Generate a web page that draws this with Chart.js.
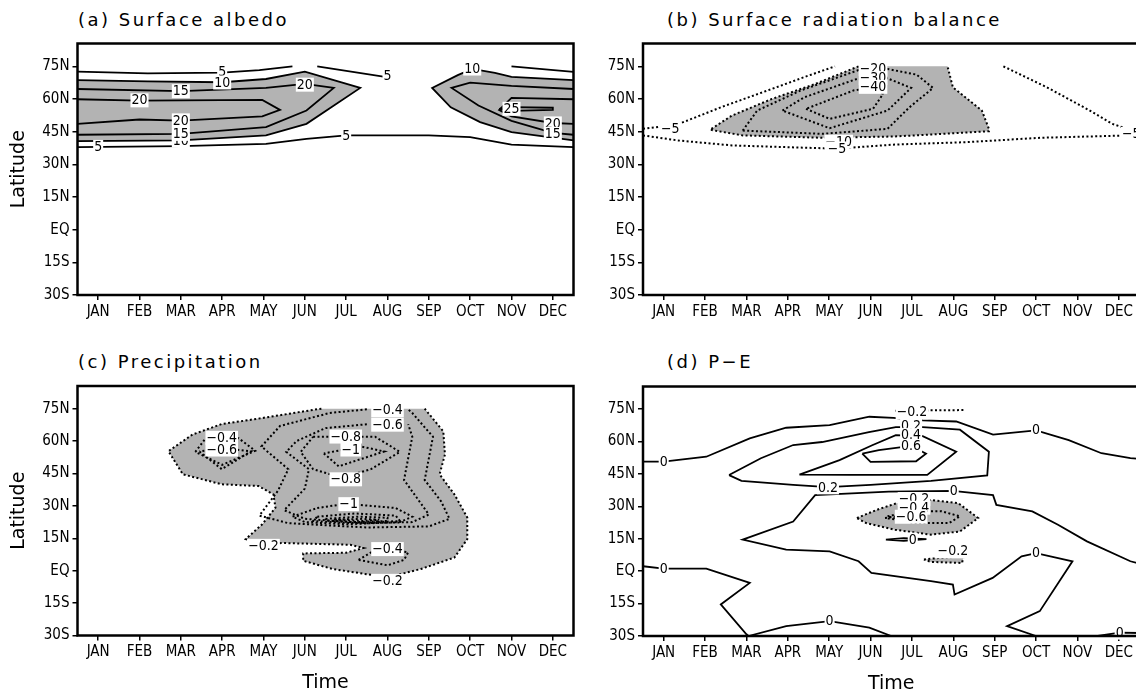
<!DOCTYPE html>
<html>
<head>
<meta charset="utf-8">
<script src="https://cdn.jsdelivr.net/npm/chart.js@4.4.1/dist/chart.umd.min.js"></script>
<style>
  html, body { margin: 0; padding: 0; background: #fff; width: 1136px; height: 697px; overflow: hidden; }
  canvas.panel { position: absolute; left: 0; top: 0; }
  .ttl { position: absolute; font-family: 'DejaVu Sans', sans-serif; font-size: 18px; letter-spacing: 2.5px; color: #000; white-space: nowrap; }
</style>
</head>
<body>
<div class="ttl" style="left:78px; top:9px">(a) Surface albedo</div>
<div class="ttl" style="left:667px; top:9px">(b) Surface radiation balance</div>
<div class="ttl" style="left:78px; top:351px">(c) Precipitation</div>
<div class="ttl" style="left:667px; top:351px">(d) P&minus;E</div>
<canvas id="pa" class="panel" width="1150" height="697"></canvas>
<canvas id="pb" class="panel" width="1150" height="697"></canvas>
<canvas id="pc" class="panel" width="1150" height="697"></canvas>
<canvas id="pd" class="panel" width="1150" height="697"></canvas>
<script>
// axes
const months = ['JAN', 'FEB', 'MAR', 'APR', 'MAY', 'JUN', 'JUL', 'AUG', 'SEP', 'OCT', 'NOV', 'DEC'];
const latTicks = [75, 60, 45, 30, 15, 0, -15, -30];
const latLabels = ['75N', '60N', '45N', '30N', '15N', 'EQ', '15S', '30S'];

// (a) surface albedo, contour vertices as [month, latitude]
const albedo5TopW = [[0.5, 72.6], [2.2, 71.8], [4.0, 72.1], [4.9, 73.3], [5.7, 75.0]];
const albedo5TopM = [[6.3, 75.0], [7.9, 70.3]];
const albedo5TopE = [[11.0, 75.0], [12.5, 72.5]];
const albedo10W = [[0.5, 68.7], [2.2, 68.1], [4.0, 67.7], [5.06, 69.2], [6.0, 72.6], [7.34, 65.1], [6.04, 48.6], [5.06, 43.3], [3.0, 41.0], [0.5, 40.7]];
const albedo15W = [[0.5, 64.6], [3.0, 63.6], [5.06, 65.1], [6.0, 67.0], [6.7, 65.1], [6.04, 54.7], [5.06, 47.1], [3.0, 44.0], [0.5, 43.6]];
const albedo20W = [[0.5, 59.9], [2.0, 59.3], [4.97, 59.6], [5.4, 55.0], [4.97, 52.0], [3.0, 50.1], [2.0, 50.6], [0.5, 48.6]];
const albedo5South = [[0.5, 37.9], [3.0, 38.4], [5.06, 39.4], [6.04, 41.7], [7.0, 43.3], [9.0, 43.3], [10.0, 42.5], [11.0, 39.1], [12.5, 37.9]];
const albedo10E = [[12.5, 68.7], [11.0, 70.2], [10.6, 72.0], [10.05, 73.8], [9.7, 71.0], [9.08, 65.1], [9.53, 56.2], [10.24, 49.4], [11.0, 44.8], [12.5, 41.0]];
const albedo15E = [[12.5, 64.6], [11.0, 66.0], [10.0, 67.5], [9.55, 65.1], [10.2, 57.0], [11.0, 50.0], [12.0, 44.5], [12.5, 43.6]];
const albedo20E = [[12.5, 59.9], [11.0, 60.5], [10.7, 55.0], [11.0, 52.0], [12.0, 49.0], [12.5, 48.6]];
const albedo25E = [[10.7, 55.5], [11.0, 56.3], [12.0, 56.0], [12.0, 55.0], [11.0, 54.6], [10.7, 55.5]];
const albedoLabels = [
  ['5', 4.0, 72.3], ['10', 4.0, 67.6], ['15', 3.0, 63.6], ['20', 2.0, 59.4], ['20', 3.0, 50.2],
  ['10', 3.0, 41.0], ['15', 3.0, 44.0], ['5', 1.0, 38.0], ['20', 6.0, 66.6], ['5', 8.0, 70.5],
  ['5', 7.0, 43.3], ['10', 10.05, 74.0], ['25', 11.0, 55.5], ['20', 12.0, 48.8], ['15', 12.0, 44.0]
];

// (b) surface radiation balance
const rad5NW = [[0.5, 46.3], [1.33, 48.3], [2.38, 56.2], [3.61, 64.6], [4.49, 70.7], [5.14, 75]];
const rad5NE = [[9.21, 75], [10.26, 65.4], [11.3, 54.7], [11.84, 48.6], [12.5, 44.5]];
const rad5S = [[0.5, 43.3], [1.33, 41.0], [2.65, 38.7], [3.96, 37.9], [5.19, 37.2], [6.59, 39.1], [8.34, 40.2], [10.1, 42.2], [12.28, 43.3], [12.5, 43.5]];
const rad10 = [[5.71, 75], [4.66, 66.9], [3.61, 60.0], [2.65, 52.4], [2.12, 45.9], [2.91, 43.3], [4.84, 42.2], [6.59, 42.8], [8.86, 45.2], [8.86, 46.3], [8.69, 54.7], [7.99, 65.4], [7.86, 75]];
const rad20 = [[2.91, 45.5], [3.26, 54.7], [4.31, 63.9], [5.71, 73.3], [6.41, 73.8], [7.11, 71.2], [7.51, 65.1], [6.94, 56.2], [6.41, 46.3], [4.84, 44.0], [2.91, 45.5]];
const rad30 = [[3.87, 54.7], [4.40, 60.8], [5.71, 69.5], [6.41, 69.5], [6.98, 65.1], [6.41, 54.7], [5.01, 46.6], [3.87, 54.7]];
const rad40 = [[4.44, 55.5], [5.01, 50.9], [6.06, 55.5], [6.3, 62.3], [6.06, 65.3], [5.6, 64.0], [4.44, 55.5]];
const radLabels = [
  ['−5', 1.16, 46.3], ['−10', 5.23, 40.4], ['−5', 5.19, 37.3], ['−20', 6.06, 73.8],
  ['−30', 6.06, 69.6], ['−40', 6.06, 65.6], ['−5', 12.3, 44.0]
];

// (c) precipitation
const precip02 = [[6.4, 75], [6.22, 74.5], [4.88, 70.4], [3.99, 67.9], [3.28, 63.0], [2.70, 55.3], [3.05, 44.6], [3.99, 40.0], [4.88, 39.2], [5.24, 35.3], [5.29, 29.2], [4.97, 21.5], [4.57, 14.6], [4.9, 12.5], [5.5, 12.8], [7.1, 12.0], [7.42, 10.5], [7.0, 8.3], [5.96, 8.0], [5.96, 4.6], [6.67, 0.8], [8.0, -3.1], [8.81, 0.8], [9.62, 6.1], [9.93, 14.6], [9.93, 24.6], [9.62, 35.3], [9.26, 44.6], [9.39, 53.8], [9.35, 64.5], [8.90, 75]];
const precip04W = [[3.35, 55.0], [3.6, 61.3], [4.4, 61.3], [4.8, 55.5], [4.0, 49.0], [3.35, 55.0]];
const precip06W = [[3.45, 55.2], [3.99, 47.0], [4.7, 55.3], [3.99, 56.8], [3.45, 55.2]];
const precip04 = [[7.5, 74.7], [6.6, 73.0], [5.4, 67.0], [4.95, 57.5], [5.6, 47.0], [5.35, 37.0], [4.9, 25.5], [5.6, 22.0], [7.5, 20.0], [9.0, 20.5], [9.5, 24.0], [9.3, 32.0], [8.9, 42.0], [9.0, 52.0], [9.1, 62.0], [8.6, 73.0], [8.5, 74.7]];
const precip06 = [[7.5, 67.8], [6.5, 66.0], [5.8, 60.0], [5.55, 55.0], [6.1, 47.0], [6.0, 38.0], [5.5, 28.0], [6.0, 24.0], [7.5, 22.0], [8.6, 22.5], [9.0, 26.0], [8.7, 34.0], [8.4, 42.0], [8.5, 52.0], [8.6, 62.0], [8.5, 67.8]];
const precip08N = [[6.2, 62.0], [7.7, 62.0], [8.3, 55.0], [7.6, 47.0], [6.9, 43.0], [6.2, 47.0], [5.9, 55.0], [6.2, 62.0]];
const precip10N = [[6.46, 54.3], [6.82, 48.3], [7.92, 55.2], [7.36, 57.5], [6.46, 54.3]];
const precip10S = [[6.3, 29.0], [7.0, 31.0], [8.2, 29.0], [8.6, 25.0], [8.3, 22.5], [7.0, 21.5], [6.0, 22.5], [5.7, 25.0], [6.3, 29.0]];
const precip12S = [[6.3, 25.0], [7.2, 26.5], [8.2, 25.5], [8.3, 23.0], [7.2, 22.0], [6.2, 23.0], [6.3, 25.0]];
const precip14S = [[6.5, 24.0], [7.3, 25.0], [8.0, 24.5], [8.0, 23.0], [7.2, 22.5], [6.5, 23.2], [6.5, 24.0]];
const precip16S = [[6.7, 23.6], [7.4, 24.0], [7.8, 23.6], [7.4, 23.0], [6.7, 23.6]];
const precip04Eq = [[7.3, 5.0], [7.6, 8.5], [8.0, 10.0], [8.5, 8.5], [8.4, 5.0], [8.0, 2.5], [7.3, 5.0]];
const precipLabels = [
  ['−0.4', 3.99, 61.5], ['−0.6', 3.99, 56.1], ['−0.4', 8.0, 74.3], ['−0.6', 8.0, 67.6],
  ['−0.8', 6.99, 62.1], ['−1', 7.11, 56.1], ['−0.8', 6.99, 42.3], ['−1', 7.06, 30.8],
  ['−0.2', 5.0, 11.5], ['−0.4', 8.0, 10.0], ['−0.2', 8.0, -4.7]
];

// (d) P-E
const pe0North = [[0.5, 50.7], [1.0, 50.7], [2.03, 53.0], [3.08, 61.5], [3.96, 66.4], [5.01, 67.6], [5.97, 71.5], [6.55, 71.0], [7.26, 69.8], [8.07, 69.3], [8.96, 63.2], [10.0, 65.2], [10.79, 60.7], [11.58, 54.6], [12.28, 52.3], [12.5, 52.0]];
const pe02 = [[2.58, 44.5], [3.35, 52.3], [4.13, 58.4], [4.83, 59.8], [5.96, 64.4], [6.61, 66.7], [7.26, 66.7], [8.16, 65.5], [8.86, 55.3], [8.82, 44.3], [7.46, 41.8], [6.0, 40.0], [4.97, 38.9], [4.13, 40.0], [2.88, 41.8], [2.58, 44.5]];
const pe04 = [[4.28, 44.7], [5.25, 51.4], [6.04, 58.3], [6.61, 63.0], [7.26, 62.5], [8.07, 55.3], [7.37, 44.6], [5.5, 44.6], [4.28, 44.7]];
const pe06 = [[5.8, 54.4], [6.2, 56.0], [6.98, 58.0], [7.34, 54.4], [7.1, 50.9], [6.0, 50.6], [5.8, 54.4]];
const pe0Mid = [[12.5, 3.5], [12.28, 4.6], [11.23, 13.8], [10.53, 21.5], [9.91, 27.7], [9.04, 30.7], [8.96, 35.2], [7.99, 37.2], [6.44, 36.8], [4.66, 35.2], [4.13, 23.0], [2.91, 14.6], [3.96, 10.0], [5.01, 9.2], [5.71, 4.6], [6.02, -0.8], [7.46, -4.6], [7.99, -6.2], [8.03, -10.8], [8.95, -3.1], [9.65, 6.9], [10.0, 8.4], [10.88, 4.6], [10.09, -18.5], [9.30, -25.4], [10.0, -30]];
const pe0West = [[0.5, 2.3], [1.0, 1.2], [2.03, 1.2], [3.08, -5.4], [2.38, -15.4], [3.0, -29.2], [3.05, -30]];
const pe0South = [[3.05, -30], [3.96, -25.4], [5.01, -23.1], [5.97, -26.1], [6.5, -30]];
const pe0SouthEast = [[11.49, -30], [12.02, -28.4], [12.5, -28.6]];
const pe0Small = [[6.37, 14.6], [6.8, 15.3], [7.35, 14.8], [6.8, 14.0], [6.37, 14.6]];
const peNeg02Top = [[6.6, 74.3], [8.3, 74.6]];
const peNeg02 = [[5.67, 24.6], [6.15, 28.4], [6.76, 32.3], [7.46, 33.0], [8.12, 31.5], [8.60, 24.6], [8.16, 18.4], [7.46, 16.9], [6.59, 19.2], [5.89, 22.3], [5.67, 24.6]];
const peNeg04 = [[6.41, 25.4], [6.94, 27.7], [7.72, 27.7], [8.16, 25.4], [7.90, 22.3], [7.02, 22.3], [6.41, 25.4]];
const peNeg06 = [[6.35, 24.6], [6.7, 25.6], [7.2, 25.0], [6.7, 23.8], [6.35, 24.6]];
const peNeg02Eq = [[7.29, 5.4], [7.64, 6.1], [8.25, 6.9], [8.21, 3.8], [7.46, 4.3], [7.29, 5.4]];
const peLabels = [
  ['0', 1.0, 50.7], ['0', 10.0, 65.2], ['−0.2', 7.0, 73.6], ['0.2', 6.98, 67.4], ['0.4', 6.98, 63.0],
  ['0.6', 6.98, 58.0], ['0.2', 4.97, 38.8], ['0', 8.01, 37.3], ['−0.2', 7.05, 33.4], ['−0.4', 7.05, 29.4],
  ['−0.6', 6.98, 25.2], ['0', 7.02, 14.6], ['−0.2', 7.99, 9.2], ['0', 1.0, 1.2], ['0', 10.0, 8.4],
  ['0', 5.01, -23.1], ['0', 12.02, -28.4]
];

const condensed = '"DejaVu Sans Condensed", "Liberation Sans Narrow", "DejaVu Sans", sans-serif';
const tickFont = { family: condensed, size: 15 };
const titleFont = { family: '"DejaVu Sans", sans-serif', size: 19 };
const SHADE = '#b3b3b3';

const pts = a => a.map(([x, y]) => ({ x, y }));

function line(arr, dashed) {
  return {
    data: pts(arr), borderColor: '#000', borderWidth: dashed ? 2 : 1.8,
    borderDash: dashed ? [2, 2.4] : [], pointRadius: 0, fill: false, tension: 0
  };
}

function shade(arr) {
  return {
    data: pts(arr), borderColor: 'rgba(0,0,0,0)', borderWidth: 0,
    backgroundColor: SHADE, pointRadius: 0, fill: 'shape', tension: 0
  };
}

// white-boxed contour values
const contourLabels = {
  id: 'contourLabels',
  afterDatasetsDraw(chart, args, opts) {
    const { ctx, scales: { x, y } } = chart;
    ctx.save();
    ctx.font = '14px ' + condensed;
    ctx.textAlign = 'center';
    ctx.textBaseline = 'middle';
    for (const [text, m, lat] of opts.items || []) {
      const px = x.getPixelForValue(m), py = y.getPixelForValue(lat);
      const w = ctx.measureText(text).width + 2;
      ctx.fillStyle = '#fff';
      ctx.fillRect(px - w / 2, py - 7, w, 14);
      ctx.fillStyle = '#000';
      ctx.fillText(text, px, py + 0.5);
    }
    ctx.restore();
  }
};

// heavy frame round the plot area
const frame = {
  id: 'frame',
  afterDraw(chart) {
    const { ctx, chartArea: a } = chart;
    ctx.save();
    ctx.lineWidth = 2.5;
    ctx.strokeStyle = '#000';
    ctx.strokeRect(a.left, a.top, a.right - a.left, a.bottom - a.top);
    ctx.restore();
  }
};

function panel(id, box, datasets, labels, showLat, showTime) {
  const canvas = document.getElementById(id);
  const W = canvas.width, H = canvas.height;
  const yw = showLat ? box.left : 60;
  const xh = showTime ? 60 : 28;
  new Chart(canvas, {
    type: 'line',
    data: { datasets },
    plugins: [contourLabels, frame],
    options: {
      responsive: false,
      animation: false,
      devicePixelRatio: 1,
      layout: { padding: { left: box.left - yw, top: box.top, right: W - box.right, bottom: H - box.bottom - xh } },
      plugins: {
        legend: { display: false },
        tooltip: { enabled: false },
        filler: { drawTime: 'beforeDatasetsDraw' },
        contourLabels: { items: labels }
      },
      scales: {
        x: {
          type: 'linear', min: 0.5, max: 12.5,
          afterBuildTicks: s => { s.ticks = months.map((m, i) => ({ value: i + 1 })); },
          afterFit: s => { s.height = xh; },
          ticks: { callback: v => months[v - 1], font: tickFont, color: '#000', padding: 3, maxRotation: 0, autoSkip: false },
          grid: { drawOnChartArea: false, tickLength: 5, color: '#000', lineWidth: 1.5 },
          border: { display: false },
          title: { display: showTime, text: 'Time', font: titleFont, color: '#000', padding: { top: 0, bottom: 1 } }
        },
        y: {
          type: 'linear', min: -30, max: 85.5,
          afterBuildTicks: s => { s.ticks = latTicks.map(v => ({ value: v })); },
          afterFit: s => { s.width = yw; },
          ticks: { callback: v => latLabels[latTicks.indexOf(v)], font: tickFont, color: '#000', padding: 3, autoSkip: false },
          grid: { drawOnChartArea: false, tickLength: 5, color: '#000', lineWidth: 1.5 },
          border: { display: false },
          title: { display: showLat, text: 'Latitude', font: titleFont, color: '#000', padding: { top: 8, bottom: 0 } }
        }
      }
    }
  });
}

panel('pa', { left: 77.5, top: 43.5, right: 573.5, bottom: 295 }, [
  line(albedo5TopW), line(albedo5TopM), line(albedo5TopE), line(albedo5South),
  line(albedo10W), line(albedo15W), line(albedo20W),
  line(albedo10E), line(albedo15E), line(albedo20E), line(albedo25E),
  shade(albedo10W), shade(albedo10E)
], albedoLabels, true, false);

panel('pb', { left: 643, top: 43.5, right: 1139.5, bottom: 295 }, [
  line(rad5NW, true), line(rad5NE, true), line(rad5S, true),
  line(rad10, true), line(rad20, true), line(rad30, true), line(rad40, true),
  shade(rad10)
], radLabels, false, false);

panel('pc', { left: 77.5, top: 386, right: 573.5, bottom: 635.5 }, [
  line(precip02, true), line(precip04W, true), line(precip06W, true),
  line(precip04, true), line(precip06, true), line(precip08N, true), line(precip10N, true),
  line(precip10S, true), line(precip12S, true), line(precip14S, true), line(precip16S, true),
  line(precip04Eq, true),
  shade(precip02)
], precipLabels, true, true);

panel('pd', { left: 643, top: 386.5, right: 1139.5, bottom: 636 }, [
  line(pe0North), line(pe02), line(pe04), line(pe06), line(pe0Mid),
  line(pe0West), line(pe0South), line(pe0SouthEast), line(pe0Small),
  line(peNeg02Top, true), line(peNeg02, true), line(peNeg04, true), line(peNeg06, true), line(peNeg02Eq, true),
  shade(peNeg02), shade(peNeg02Eq)
], peLabels, false, true);
</script>
</body>
</html>
